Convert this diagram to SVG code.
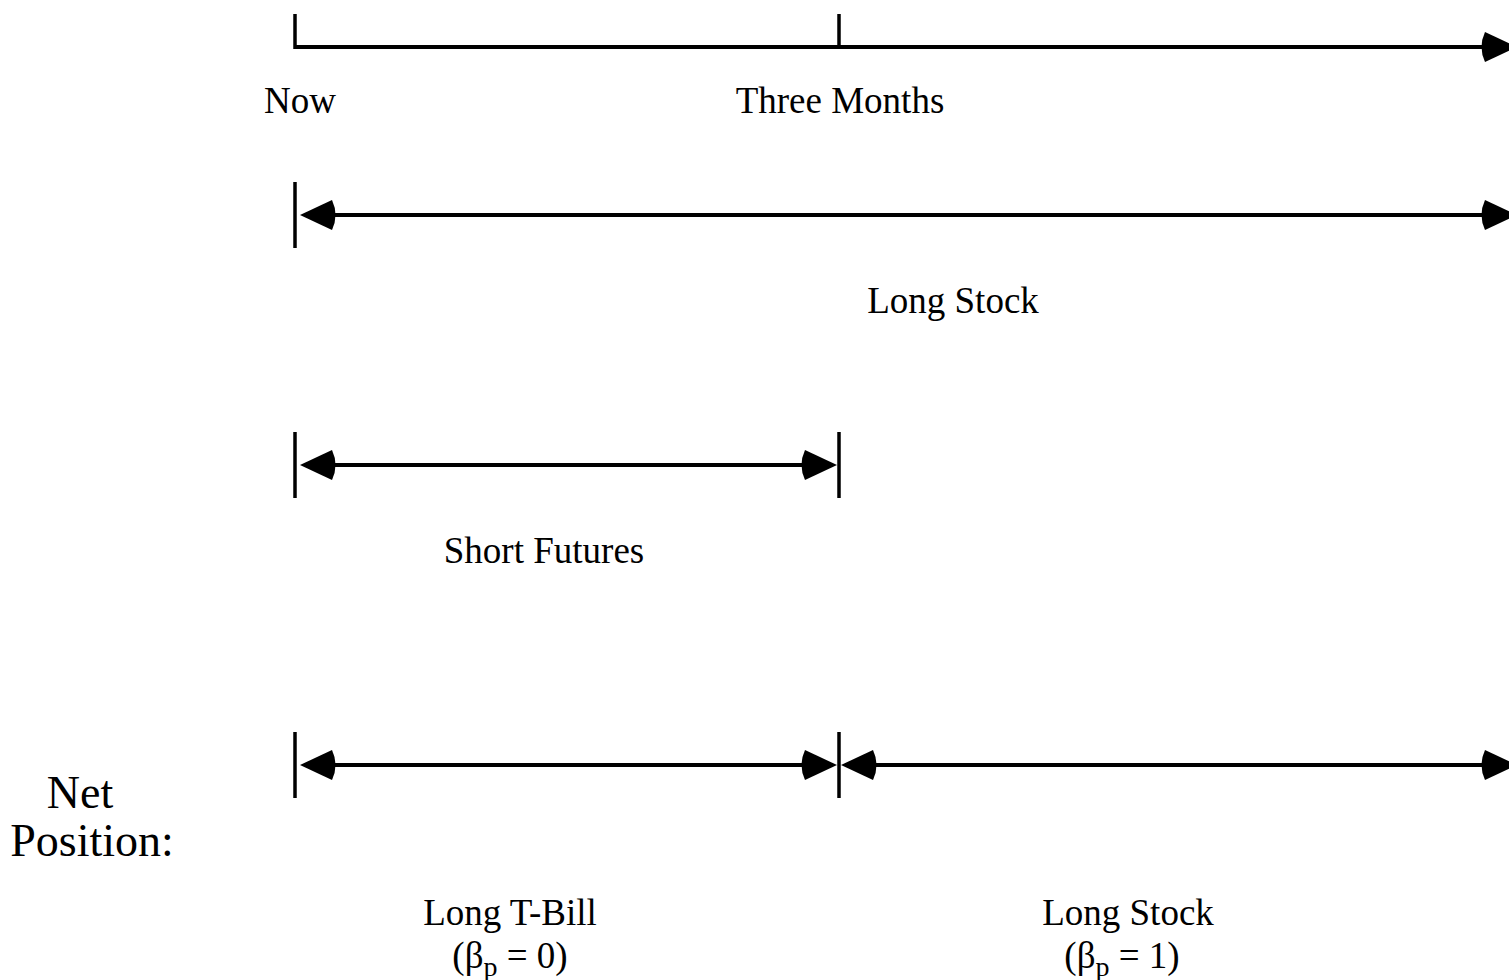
<svg xmlns="http://www.w3.org/2000/svg" xmlns:xlink="http://www.w3.org/1999/xlink" width="1509" height="980" viewBox="0 0 1509 980">
<style>
.ln{stroke:#000;stroke-width:4;fill:none}
.tk{stroke:#000;stroke-width:3.5;fill:none}
.t{font-family:"Liberation Serif","Times New Roman",serif;font-size:37px;fill:#000}
.big{font-family:"Liberation Serif","Times New Roman",serif;font-size:46px;fill:#000}
.sub{font-size:28px}
</style>
<defs>
<path id="ah" d="M0,0 L-32,-15 Q-39,0 -32,15 Z" fill="#000"/>
</defs>
<g id="connectors">
<line class="tk" x1="295" y1="14" x2="295" y2="49"/>
<line class="tk" x1="839" y1="14" x2="839" y2="47"/>
<line class="ln" x1="295" y1="47" x2="1490" y2="47"/>
<use xlink:href="#ah" transform="translate(1517,47)"/>
<line class="tk" x1="295" y1="182" x2="295" y2="248"/>
<line class="ln" x1="320" y1="215" x2="1490" y2="215"/>
<use xlink:href="#ah" transform="translate(300,215) scale(-1,1)"/>
<use xlink:href="#ah" transform="translate(1517,215)"/>
<line class="tk" x1="295" y1="432" x2="295" y2="498"/>
<line class="tk" x1="839" y1="432" x2="839" y2="498"/>
<line class="ln" x1="320" y1="465" x2="815" y2="465"/>
<use xlink:href="#ah" transform="translate(300,465) scale(-1,1)"/>
<use xlink:href="#ah" transform="translate(837,465)"/>
<line class="tk" x1="295" y1="732" x2="295" y2="798"/>
<line class="tk" x1="839" y1="732" x2="839" y2="798"/>
<line class="ln" x1="320" y1="765" x2="815" y2="765"/>
<use xlink:href="#ah" transform="translate(300,765) scale(-1,1)"/>
<use xlink:href="#ah" transform="translate(837,765)"/>
<line class="ln" x1="862" y1="765" x2="1490" y2="765"/>
<use xlink:href="#ah" transform="translate(841,765) scale(-1,1)"/>
<use xlink:href="#ah" transform="translate(1517,765)"/>
</g>
<g id="now"><text class="t" x="300" y="113" text-anchor="middle">Now</text></g>
<g id="three-months"><text class="t" x="840" y="113" text-anchor="middle">Three Months</text></g>
<g id="long-stock"><text class="t" x="953" y="313" text-anchor="middle">Long Stock</text></g>
<g id="short-futures"><text class="t" x="544" y="563" text-anchor="middle">Short Futures</text></g>
<g id="net-position">
<text class="big" x="80" y="808" text-anchor="middle">Net</text>
<text class="big" x="92" y="856" text-anchor="middle">Position:</text>
</g>
<g id="long-tbill">
<text class="t" x="510" y="925" text-anchor="middle">Long T-Bill</text>
<text class="t" x="510" y="968" text-anchor="middle">(β<tspan class="sub" dy="8">p</tspan><tspan dy="-8"> = 0)</tspan></text>
</g>
<g id="long-stock-net">
<text class="t" x="1128" y="925" text-anchor="middle">Long Stock</text>
<text class="t" x="1122" y="968" text-anchor="middle">(β<tspan class="sub" dy="8">p</tspan><tspan dy="-8"> = 1)</tspan></text>
</g>
</svg>
